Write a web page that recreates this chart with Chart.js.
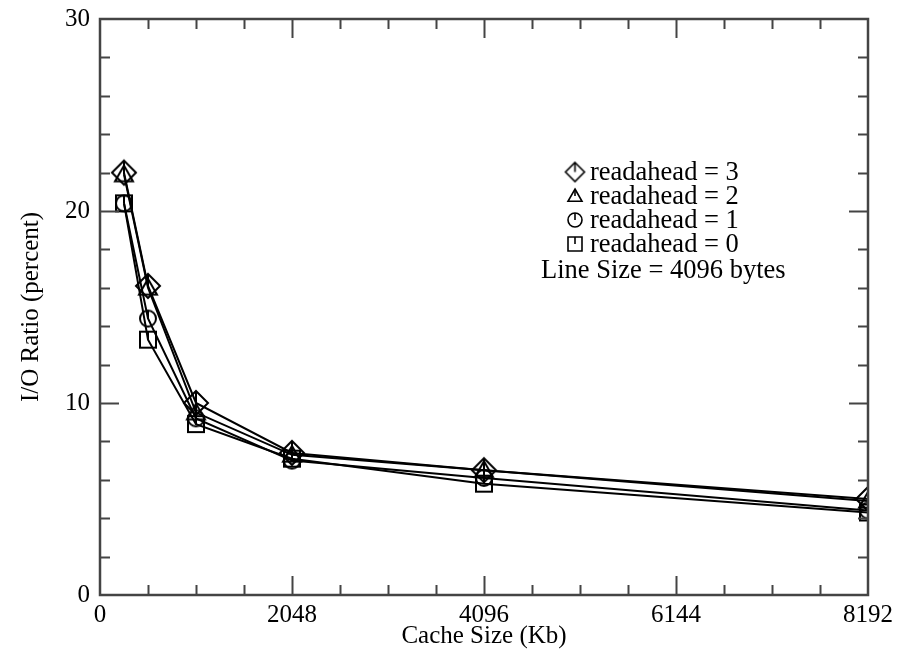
<!DOCTYPE html>
<html><head><meta charset="utf-8">
<script src="https://cdn.jsdelivr.net/npm/chart.js@4.4.0/dist/chart.umd.min.js"></script>
<style>html,body{margin:0;padding:0;background:#fff}#wrap{width:899px;height:660px;position:relative}</style>
</head><body><div id="wrap"><canvas id="c"></canvas></div>
<script>
const cacheSizes = [256, 512, 1024, 2048, 4096, 8192];
const readahead3 = [22.0, 16.1, 10.0, 7.4, 6.5, 5.0];
const readahead2 = [21.9, 16.0, 9.5, 7.3, 6.5, 4.9];
const readahead1 = [20.4, 14.4, 9.2, 7.0, 6.1, 4.4];
const readahead0 = [20.4, 13.3, 8.9, 7.1, 5.8, 4.3];
const seriesLabels = ['readahead = 3', 'readahead = 2', 'readahead = 1', 'readahead = 0'];
const xTicks = [0, 2048, 4096, 6144, 8192];
const yTicks = [0, 10, 20, 30];
const xMinorStep = 512, yMinorStep = 2;
const noteText = 'Line Size = 4096 bytes';
const xTitle = 'Cache Size (Kb)';
const yTitle = 'I/O Ratio (percent)';

const FONT = "'Liberation Serif', 'Times New Roman', serif";

function marker(shape, s, lw) {
  const d = Math.ceil(s + lw * 2 + 4);
  const c = document.createElement('canvas');
  c.width = d; c.height = d;
  const g = c.getContext('2d');
  const cx = d / 2, cy = d / 2, h = s / 2;
  g.strokeStyle = '#000'; g.lineWidth = lw; g.lineJoin = 'miter';
  g.beginPath();
  let top = cy - h;
  if (shape === 'diamond') {
    g.moveTo(cx, cy - h); g.lineTo(cx + h, cy); g.lineTo(cx, cy + h); g.lineTo(cx - h, cy); g.closePath();
  } else if (shape === 'triangle') {
    g.moveTo(cx, cy - h); g.lineTo(cx + h, cy + h * 0.75); g.lineTo(cx - h, cy + h * 0.75); g.closePath();
  } else if (shape === 'circle') {
    g.arc(cx, cy, h, 0, Math.PI * 2);
  } else {
    g.rect(cx - h, cy - h, s, s);
  }
  g.stroke();
  g.beginPath(); g.moveTo(cx, top); g.lineTo(cx, cy); g.stroke();
  return c;
}
const shapes = ['diamond', 'triangle', 'circle', 'square'];
const plotSizes = [24, 18, 16, 16];
const legendSizes = [19, 14, 14, 14];
const plotMarkers = shapes.map((s, i) => marker(s, plotSizes[i], 2));
const legendMarkers = shapes.map((s, i) => marker(s, legendSizes[i], 1.6));

const seriesValues = [readahead3, readahead2, readahead1, readahead0];
const datasets = seriesValues.map((vals, i) => ({
  label: seriesLabels[i],
  data: cacheSizes.map((x, j) => ({x: x, y: vals[j]})),
  borderColor: '#000',
  borderWidth: 2,
  pointStyle: plotMarkers[i],
  pointRadius: 10,
  pointHoverRadius: 10,
  fill: false,
  tension: 0
}));

const framePlugin = {
  id: 'frame',
  afterDatasetsDraw(chart) {
    const {ctx, chartArea: a, scales: {x, y}} = chart;
    ctx.save();
    ctx.strokeStyle = '#444';
    ctx.lineWidth = 2;
    ctx.beginPath();
    for (let v = xMinorStep; v < 8192; v += xMinorStep) {
      const px = Math.round(x.getPixelForValue(v)) + 0.5;
      const len = (v % 2048 === 0) ? 19 : 10;
      ctx.moveTo(px, a.bottom); ctx.lineTo(px, a.bottom - len);
      ctx.moveTo(px, a.top); ctx.lineTo(px, a.top + len);
    }
    for (let v = yMinorStep; v < 30; v += yMinorStep) {
      const py = Math.round(y.getPixelForValue(v)) + 0.5;
      const len = (v % 10 === 0) ? 19 : 10;
      ctx.moveTo(a.left, py); ctx.lineTo(a.left + len, py);
      ctx.moveTo(a.right, py); ctx.lineTo(a.right - len, py);
    }
    ctx.stroke();
    ctx.lineWidth = 2.5;
    ctx.strokeRect(a.left, a.top, a.right - a.left, a.bottom - a.top);
    // in-plot legend
    ctx.fillStyle = '#000';
    ctx.font = '26.5px ' + FONT;
    ctx.textBaseline = 'middle';
    ctx.textAlign = 'left';
    const rowY = [172, 196, 220, 244];
    const mx = 575, tx = 590;
    chart.data.datasets.forEach((ds, i) => {
      const m = legendMarkers[i];
      ctx.drawImage(m, mx - m.width / 2, rowY[i] - m.height / 2);
      ctx.fillText(ds.label, tx, rowY[i] + 1);
    });
    ctx.fillText(noteText, 541, 271);
    ctx.restore();
  }
};

new Chart(document.getElementById('c'), {
  type: 'line',
  data: {datasets},
  options: {
    responsive: true,
    maintainAspectRatio: false,
    animation: false,
    events: [],
    layout: {padding: {left: 0, right: 31, top: 19, bottom: 0}},
    plugins: {legend: {display: false}, tooltip: {enabled: false}},
    scales: {
      x: {
        type: 'linear', min: 0, max: 8192,
        afterBuildTicks: s => { s.ticks = xTicks.map(v => ({value: v})); },
        afterFit: s => { s.height = 65; s.paddingLeft = 0; s.paddingRight = 0; },
        grid: {display: false, drawTicks: false},
        border: {display: false},
        ticks: {color: '#000', font: {family: FONT, size: 25}, padding: 5, maxRotation: 0, autoSkip: false,
                callback: v => String(v)},
        title: {display: true, text: xTitle, color: '#000', font: {family: FONT, size: 25}, padding: {top: 0, bottom: 9}}
      },
      y: {
        type: 'linear', min: 0, max: 30,
        afterBuildTicks: s => { s.ticks = yTicks.map(v => ({value: v})); },
        afterFit: s => { s.width = 100; s.paddingTop = 0; s.paddingBottom = 0; },
        grid: {display: false, drawTicks: false},
        border: {display: false},
        ticks: {color: '#000', font: {family: FONT, size: 25}, padding: 10, callback: v => String(v)},
        title: {display: true, text: yTitle, color: '#000', font: {family: FONT, size: 25}, padding: {top: 16, bottom: 0}}
      }
    }
  },
  plugins: [framePlugin]
});
</script></body></html>
